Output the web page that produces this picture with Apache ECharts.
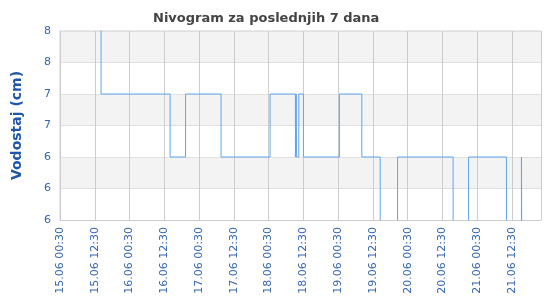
<!DOCTYPE html>
<html><head><meta charset="utf-8">
<script src="https://cdn.jsdelivr.net/npm/echarts@6/dist/echarts.min.js"></script>
<style>html,body{margin:0;padding:0;background:#fff}#c{width:550px;height:300px}</style>
</head><body><div id="c"></div>
<script>
// Change points: level holds from this time onward (step line)
var startLabel = '15.06 00:30';
var times = ['15.06 00:30','15.06 14:40','16.06 14:30','16.06 19:50','17.06 08:05','18.06 01:00',
  '18.06 09:45','18.06 10:00','18.06 10:10','18.06 10:55','18.06 12:30','19.06 00:55','19.06 08:40',
  '19.06 15:00','19.06 21:00','20.06 16:10','20.06 21:30','21.06 10:35','21.06 15:45','21.06 15:55','21.06 22:30'];
var levels = [9,7,6,7,6,7,6,7,6,7,6,7,6,4,6,4,6,4,6,4,4];
var yTickLabels = ['6','6','6','7','7','8','8'];
var spanHours = 166;

function toHours(s){
  var d = parseInt(s.slice(0,2),10), h = parseInt(s.slice(6,8),10), m = parseInt(s.slice(9,11),10);
  var d0 = parseInt(startLabel.slice(0,2),10), h0 = parseInt(startLabel.slice(6,8),10), m0 = parseInt(startLabel.slice(9,11),10);
  return (d-d0)*24 + (h-h0) + (m-m0)/60;
}
function fmtHours(v){
  var d0 = parseInt(startLabel.slice(0,2),10);
  var tot = Math.round(v*60) + 30;
  var d = d0 + Math.floor(tot/1440), rem = tot%1440;
  var hh = Math.floor(rem/60), mm = rem%60;
  function p(n){return (n<10?'0':'')+n;}
  return p(d)+'.06 '+p(hh)+':'+p(mm);
}
var data = times.map(function(t,i){return [toHours(t), levels[i]];});

var chart = echarts.init(document.getElementById('c'), null, {renderer:'canvas'});
chart.setOption({
  animation:false,
  title:{text:'Nivogram za poslednjih 7 dana',left:148,top:7,
    textStyle:{fontFamily:'DejaVu Sans',fontSize:13,fontWeight:'bold',color:'#444'}},
  grid:{left:60,right:9,top:31,bottom:80,show:true,borderColor:'#d0d0d0',borderWidth:1},
  xAxis:{type:'value',min:0,max:spanHours,interval:12,
    axisLine:{show:true,lineStyle:{color:'#ccc'}},axisTick:{show:false},
    splitLine:{show:true,lineStyle:{color:'#cccccc',width:1}},
    axisLabel:{rotate:90,fontFamily:'DejaVu Sans',fontSize:11,color:'#3566b0',margin:7,
      showMaxLabel:false,formatter:function(v){return fmtHours(v);}}},
  yAxis:{type:'value',min:5,max:8,interval:0.5,
    name:'Vodostaj (cm)',nameLocation:'middle',nameGap:36,
    nameTextStyle:{fontFamily:'DejaVu Sans',fontSize:14,fontWeight:'bold',color:'#1f58a8'},
    axisLine:{show:true,lineStyle:{color:'#ccc'}},axisTick:{show:false},
    splitLine:{show:true,lineStyle:{color:'#e0e0e0'}},
    splitArea:{show:true,areaStyle:{color:['#ffffff','#f3f3f3']}},
    axisLabel:{fontFamily:'DejaVu Sans',fontSize:11,color:'#3566b0',margin:9,
      formatter:function(v){var i=Math.round((v-5)/0.5);return yTickLabels[i]||'';}}},
  series:[{type:'line',step:'end',data:data,showSymbol:false,clip:true,
    lineStyle:{color:'#5ea6ef',width:1}}]
});
</script></body></html>
